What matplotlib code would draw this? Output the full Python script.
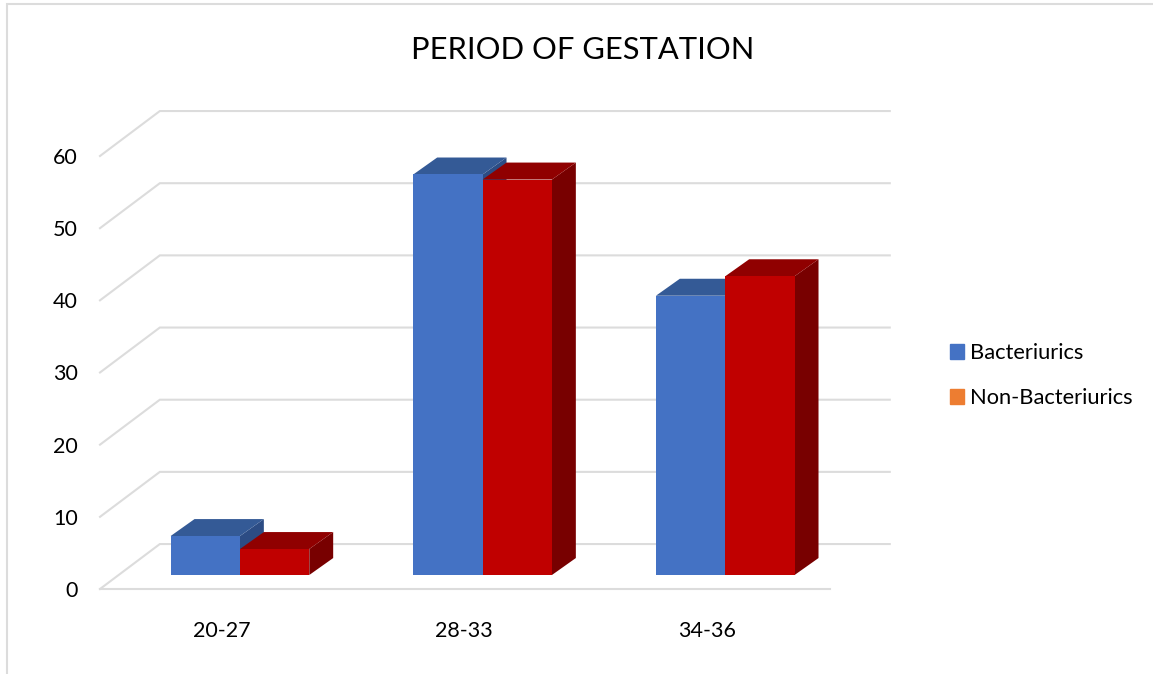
import numpy as np
import matplotlib
matplotlib.use("Agg")
import matplotlib.pyplot as plt
from matplotlib.lines import Line2D
from matplotlib.patches import Patch, Polygon

plt.rcParams['font.family'] = ['Lato', 'DejaVu Sans']

# data
categories = ['20-27', '28-33', '34-36']
bacteriurics = [5.4, 55.5, 38.7]
non_bacteriurics = [3.6, 54.8, 41.4]
y_ticks = [0, 10, 20, 30, 40, 50, 60]

W, H = 1153, 674
GRID = '#dcdcdc'

fig = plt.figure(figsize=(W / 100, H / 100), dpi=100)
ax = fig.add_axes([100 / W, (H - 589) / H, 728 / W, 433 / H])
ax.set_xlim(-0.5, 2.5)
ax.set_ylim(0, 60)
ax.patch.set_alpha(0)
for s in ax.spines.values():
    s.set_visible(False)

# depth of the fake 3d floor and of the bars, in data units
floor_dx, floor_dy = 0.2466, 6.23
base_dx, base_dy = 0.0767, 1.94
bar_dx, bar_dy = 0.0985, 2.35
bar_w = 0.2857

x0, x1 = ax.get_xlim()
x1 = x1 + 0.008
for t in y_ticks:
    ax.plot([x0, x0 + floor_dx, x1 + floor_dx], [t, t + floor_dy, t + floor_dy],
            color=GRID, lw=1.5, clip_on=False, zorder=1, solid_joinstyle='miter')
ax.plot([x0, x1], [0, 0], color=GRID, lw=1.5, clip_on=False, zorder=1)


def bar3d(x, v, front, top, side, z):
    left = x + base_dx
    right = left + bar_w
    low = base_dy
    high = base_dy + v
    ax.add_patch(Polygon([(right, low), (right + bar_dx, low + bar_dy),
                          (right + bar_dx, high + bar_dy), (right, high)],
                         fc=side, ec='none', clip_on=False, zorder=z))
    ax.add_patch(Polygon([(left, high), (right, high),
                          (right + bar_dx, high + bar_dy), (left + bar_dx, high + bar_dy)],
                         fc=top, ec='none', clip_on=False, zorder=z))
    ax.bar(left, v, width=bar_w, bottom=low, align='edge', color=front,
           clip_on=False, zorder=z + 0.5)


for i in range(len(categories)):
    bar3d(i - bar_w, bacteriurics[i], '#4472c4', '#345a96', '#2c4c84', 2 + i * 2)
    bar3d(i, non_bacteriurics[i], '#c00000', '#900000', '#780000', 3 + i * 2)

ax.set_xticks(range(len(categories)))
ax.set_xticklabels(categories)
ax.set_yticks(y_ticks)
ax.tick_params(axis='both', length=0, labelsize=15.5, labelcolor='black')
ax.tick_params(axis='y', pad=16)
ax.tick_params(axis='x', pad=23)
for lab in ax.get_yticklabels():
    lab.set_va('center_baseline')

fig.text(583 / W, 1 - 50 / H, 'PERIOD OF GESTATION', fontsize=22.2,
         ha='center', va='center', color='black')

handles = [Patch(color='#4472c4', label='Bacteriurics'),
           Patch(color='#ed7d31', label='Non-Bacteriurics')]
fig.legend(handles=handles, loc='center left', bbox_to_anchor=(950 / W, 1 - 375.5 / H),
           frameon=False, fontsize=15.75, handlelength=0.64, handleheight=0.64,
           handletextpad=0.27, labelspacing=1.14, borderaxespad=0, borderpad=0)

# frame of the pasted picture
fig.add_artist(Line2D([7 / W, 7 / W, 1], [0, 1 - 4 / H, 1 - 4 / H], color=GRID, lw=1.5,
                      solid_joinstyle='miter'))

fig.savefig('out.png', dpi=100)
